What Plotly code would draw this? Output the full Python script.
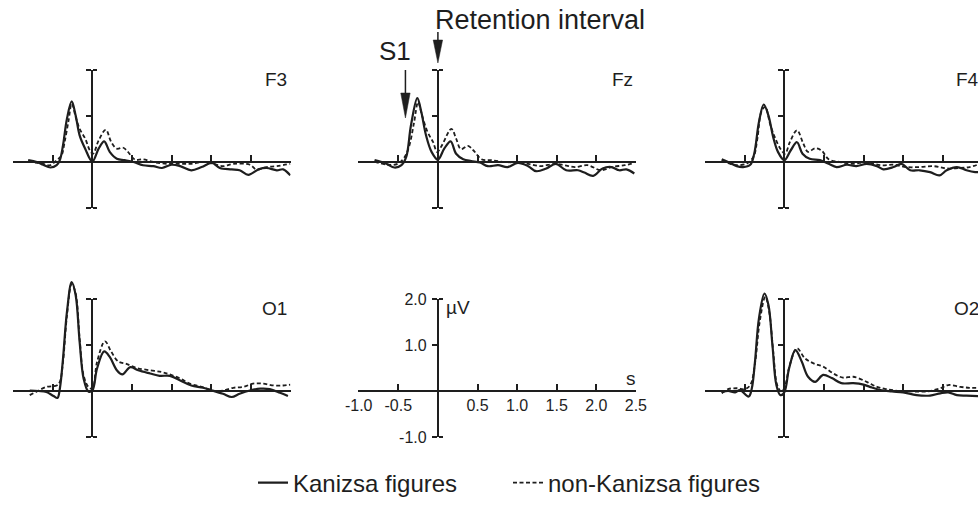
import plotly.graph_objects as go

# ---------------- data ----------------
F3_kan_t = [-0.81, -0.70, -0.62, -0.53, -0.45, -0.41, -0.37, -0.32, -0.26, -0.21, -0.16, -0.09, 0.0, 0.08, 0.15, 0.22, 0.31, 0.41, 0.52, 0.64, 0.77, 0.88, 1.0, 1.11, 1.25, 1.38, 1.51, 1.61, 1.76, 1.86, 1.97, 2.1, 2.2, 2.33, 2.41, 2.5]
F3_kan_v = [0.04, 0.0, -0.06, -0.12, -0.07, 0.04, 0.36, 0.94, 1.32, 1.01, 0.58, 0.29, 0.01, 0.29, 0.45, 0.22, 0.07, 0.04, 0.0, -0.07, -0.09, -0.13, -0.06, -0.09, -0.18, -0.11, -0.02, -0.13, -0.16, -0.18, -0.28, -0.16, -0.13, -0.18, -0.16, -0.29]
F3_non_t = [-0.81, -0.62, -0.53, -0.45, -0.39, -0.35, -0.30, -0.26, -0.21, -0.16, -0.09, -0.03, 0.01, 0.08, 0.17, 0.24, 0.31, 0.39, 0.45, 0.54, 0.64, 0.77, 0.94, 1.11, 1.25, 1.4, 1.53, 1.65, 1.78, 1.99, 2.07, 2.2, 2.33, 2.5]
F3_non_v = [0.01, -0.04, -0.07, 0.04, 0.14, 0.43, 0.9, 1.27, 0.98, 0.72, 0.51, 0.25, 0.18, 0.47, 0.70, 0.43, 0.29, 0.31, 0.22, 0.05, 0.06, 0.0, -0.04, -0.04, -0.04, 0.0, -0.04, -0.09, -0.04, -0.06, -0.16, -0.11, -0.09, -0.04]

Fz_kan_t = [-0.8, -0.65, -0.55, -0.46, -0.4, -0.34, -0.26, -0.21, -0.15, -0.08, 0.0, 0.08, 0.16, 0.23, 0.32, 0.42, 0.53, 0.63, 0.76, 0.88, 1.01, 1.14, 1.24, 1.37, 1.49, 1.62, 1.77, 1.85, 1.96, 2.08, 2.19, 2.29, 2.38, 2.48]
Fz_kan_v = [0.04, -0.04, -0.12, -0.07, 0.11, 0.8, 1.39, 1.09, 0.58, 0.22, 0.05, 0.29, 0.45, 0.18, 0.06, 0.02, -0.01, -0.09, -0.07, -0.11, -0.02, -0.09, -0.2, -0.14, -0.04, -0.18, -0.18, -0.23, -0.3, -0.14, -0.11, -0.18, -0.16, -0.25]
Fz_non_t = [-0.8, -0.63, -0.51, -0.42, -0.36, -0.3, -0.25, -0.2, -0.13, -0.06, -0.01, 0.05, 0.17, 0.23, 0.29, 0.38, 0.45, 0.55, 0.67, 0.84, 1.01, 1.14, 1.3, 1.47, 1.6, 1.73, 1.89, 2.06, 2.19, 2.36, 2.48]
Fz_non_v = [0.01, -0.06, -0.04, 0.11, 0.36, 0.87, 1.3, 1.01, 0.65, 0.43, 0.22, 0.36, 0.72, 0.51, 0.28, 0.35, 0.25, 0.06, 0.04, 0.0, -0.01, -0.04, -0.09, -0.04, -0.07, -0.11, -0.07, -0.18, -0.11, -0.07, -0.02]

F4_kan_t = [-0.79, -0.71, -0.6, -0.52, -0.43, -0.38, -0.32, -0.26, -0.2, -0.14, -0.08, 0.0, 0.08, 0.16, 0.23, 0.32, 0.45, 0.56, 0.66, 0.79, 0.91, 1.04, 1.17, 1.25, 1.38, 1.48, 1.59, 1.71, 1.84, 1.96, 2.05, 2.18, 2.3, 2.41, 2.47]
F4_kan_v = [0.06, 0.0, -0.09, -0.11, -0.06, 0.18, 0.87, 1.25, 1.01, 0.54, 0.22, 0.04, 0.25, 0.43, 0.18, 0.07, 0.04, -0.04, -0.11, -0.06, -0.09, -0.04, -0.09, -0.16, -0.11, -0.04, -0.18, -0.18, -0.22, -0.29, -0.18, -0.11, -0.18, -0.22, -0.22]
F4_non_t = [-0.79, -0.64, -0.48, -0.39, -0.34, -0.29, -0.24, -0.18, -0.12, -0.05, 0.01, 0.07, 0.16, 0.24, 0.3, 0.39, 0.47, 0.56, 0.7, 0.87, 1.04, 1.21, 1.38, 1.54, 1.71, 1.88, 2.05, 2.22, 2.34, 2.47]
F4_non_v = [0.04, -0.06, -0.04, 0.11, 0.51, 1.09, 1.2, 0.83, 0.54, 0.29, 0.18, 0.43, 0.69, 0.4, 0.22, 0.3, 0.25, 0.06, 0.0, -0.04, 0.0, -0.07, -0.06, -0.11, -0.11, -0.09, -0.14, -0.13, -0.11, -0.04]

O1_kan_t = [-0.79, -0.68, -0.58, -0.49, -0.44, -0.41, -0.37, -0.32, -0.26, -0.21, -0.16, -0.11, -0.05, 0.0, 0.06, 0.15, 0.22, 0.31, 0.38, 0.48, 0.58, 0.73, 0.85, 0.98, 1.11, 1.25, 1.4, 1.53, 1.65, 1.76, 1.86, 1.99, 2.12, 2.24, 2.37, 2.47]
O1_kan_v = [0.01, 0.0, -0.02, -0.11, -0.15, 0.05, 0.7, 1.72, 2.37, 2.08, 1.07, 0.27, -0.01, 0.01, 0.49, 0.86, 0.74, 0.45, 0.36, 0.52, 0.45, 0.38, 0.33, 0.33, 0.23, 0.12, 0.07, 0.0, -0.06, -0.13, -0.06, 0.01, 0.05, 0.04, -0.04, -0.11]
O1_non_t = [-0.79, -0.7, -0.58, -0.45, -0.41, -0.37, -0.32, -0.26, -0.21, -0.16, -0.11, -0.05, 0.0, 0.06, 0.16, 0.24, 0.33, 0.43, 0.56, 0.73, 0.88, 0.98, 1.11, 1.23, 1.38, 1.53, 1.65, 1.78, 1.91, 2.03, 2.16, 2.29, 2.41, 2.5]
O1_non_v = [-0.09, -0.01, 0.09, 0.12, 0.2, 0.63, 1.64, 2.33, 2.12, 1.14, 0.34, 0.09, 0.05, 0.63, 1.08, 0.85, 0.64, 0.59, 0.5, 0.45, 0.41, 0.36, 0.27, 0.16, 0.09, 0.01, 0.01, 0.07, 0.09, 0.16, 0.16, 0.12, 0.12, 0.14]

O2_kan_t = [-0.79, -0.71, -0.62, -0.56, -0.45, -0.41, -0.37, -0.32, -0.25, -0.2, -0.15, -0.1, -0.05, 0.0, 0.06, 0.14, 0.22, 0.3, 0.39, 0.49, 0.6, 0.72, 0.87, 1.0, 1.08, 1.21, 1.36, 1.5, 1.67, 1.84, 1.97, 2.07, 2.18, 2.3, 2.45]
O2_kan_v = [-0.03, 0.0, -0.03, 0.02, -0.12, 0.06, 0.64, 1.58, 2.12, 1.87, 1.0, 0.13, -0.09, -0.03, 0.49, 0.89, 0.64, 0.31, 0.2, 0.35, 0.28, 0.17, 0.17, 0.14, 0.09, 0.02, -0.01, -0.03, -0.09, -0.1, -0.05, -0.03, -0.09, -0.1, -0.11]
O2_non_t = [-0.79, -0.71, -0.6, -0.5, -0.43, -0.37, -0.31, -0.24, -0.19, -0.14, -0.09, -0.04, 0.0, 0.07, 0.16, 0.26, 0.37, 0.49, 0.62, 0.74, 0.87, 1.04, 1.17, 1.29, 1.46, 1.63, 1.8, 1.97, 2.07, 2.22, 2.34, 2.45]
O2_non_v = [-0.05, 0.04, 0.06, 0.04, 0.13, 0.6, 1.51, 2.05, 1.72, 0.86, 0.13, -0.01, 0.06, 0.57, 0.93, 0.71, 0.6, 0.53, 0.38, 0.29, 0.31, 0.2, 0.09, 0.04, 0.0, -0.01, -0.01, 0.06, 0.13, 0.09, 0.07, 0.07]

series_names = ["Kanizsa figures", "non-Kanizsa figures"]
x_tick_vals = [-1.0, -0.5, 0.5, 1.0, 1.5, 2.0, 2.5]
x_tick_text = ["-1.0", "-0.5", "0.5", "1.0", "1.5", "2.0", "2.5"]
y_tick_vals = [-1.0, 1.0, 2.0]
y_tick_text = ["-1.0", "1.0", "2.0"]
event_labels = ["S1", "Retention interval"]
event_times = [-0.41, 0.0]

# ---------------- layout geometry (pixels) ----------------
W, H = 978, 511
XS, YS = 79.2, 46.0            # px per second, px per microvolt
COL_X0 = [92.3, 437.9, 784.3]  # pixel x of t = 0
ROW_Y0 = [162.0, 391.0]        # pixel y of 0 uV
INK = "#1e1e1e"
FONT = "Liberation Sans, Arial, sans-serif"
DASH = "4px,2.5px"

panels = [
    dict(name="F3", col=0, row=0, k=(F3_kan_t, F3_kan_v), n=(F3_non_t, F3_non_v)),
    dict(name="Fz", col=1, row=0, k=(Fz_kan_t, Fz_kan_v), n=(Fz_non_t, Fz_non_v)),
    dict(name="F4", col=2, row=0, k=(F4_kan_t, F4_kan_v), n=(F4_non_t, F4_non_v)),
    dict(name="O1", col=0, row=1, k=(O1_kan_t, O1_kan_v), n=(O1_non_t, O1_non_v)),
    dict(name="", col=1, row=1, k=None, n=None),
    dict(name="O2", col=2, row=1, k=(O2_kan_t, O2_kan_v), n=(O2_non_t, O2_non_v)),
]

def px2fx(px):
    return px / W

def py2fy(py):
    return 1 - py / H

fig = go.Figure()
layout = dict(
    template="none",
    width=W, height=H, margin=dict(l=0, r=0, t=0, b=0, pad=0, autoexpand=False),
    paper_bgcolor="white", plot_bgcolor="rgba(0,0,0,0)",
    font=dict(family=FONT, color=INK),
    showlegend=True,
)
annotations = []
shapes = []

YD_RANGE = [-1.2, 2.9]
YV_RANGE = [-1.01, 2.01]

for i, p in enumerate(panels):
    ix = i + 1
    x0 = COL_X0[p["col"]]
    y0 = ROW_Y0[p["row"]]
    xr = [-1.003, 2.503]
    left = x0 + xr[0] * XS
    right = x0 + xr[1] * XS
    if right > W:
        right = W
        xr[1] = (W - x0) / XS
    is_scale = p["k"] is None

    xa = dict(
        domain=[px2fx(left), px2fx(right)], range=xr, anchor="free", position=py2fy(y0),
        showline=True, linecolor=INK, linewidth=2, showgrid=False, zeroline=False,
        tickmode="array", tickvals=x_tick_vals, ticktext=x_tick_text,
        ticks="inside", ticklen=6, tickwidth=1.5, tickcolor=INK,
        minor=dict(tickmode="array", tickvals=[-0.999, 2.499], ticks="outside",
                   ticklen=4, tickwidth=1.5, tickcolor=INK, showgrid=False),
        showticklabels=is_scale, tickfont=dict(size=16, color=INK), ticklabelstandoff=0,
        fixedrange=True, automargin=False,
    )
    layout[f"xaxis{ix}"] = xa

    # invisible data y axis
    yd = dict(
        domain=[py2fy(y0 + (-YD_RANGE[0]) * YS), py2fy(y0 - YD_RANGE[1] * YS)],
        range=YD_RANGE, anchor=f"x{ix}", visible=False, fixedrange=True, automargin=False,
        showgrid=False, zeroline=False,
    )
    layout[f"yaxis{ix}"] = yd

    # visible y axis spanning -1..2
    yv = dict(
        domain=[py2fy(y0 + (-YV_RANGE[0]) * YS), py2fy(y0 - YV_RANGE[1] * YS)],
        range=YV_RANGE, anchor="free", position=px2fx(x0), side="left",
        showline=True, linecolor=INK, linewidth=2, showgrid=False, zeroline=False,
        tickmode="array", tickvals=y_tick_vals, ticktext=y_tick_text,
        ticks="outside", ticklen=5, tickwidth=1.5, tickcolor=INK,
        minor=dict(tickmode="array", tickvals=[-0.999, 1.999], ticks="inside",
                   ticklen=4, tickwidth=1.5, tickcolor=INK, showgrid=False),
        showticklabels=is_scale, tickfont=dict(size=16, color=INK), ticklabelstandoff=2,
        fixedrange=True, automargin=False,
    )
    layout[f"yaxis{ix + 6}"] = yv
    fig.add_trace(go.Scatter(x=[None], y=[None], xaxis=f"x{ix}", yaxis=f"y{ix + 6}",
                             showlegend=False, hoverinfo="skip", mode="lines"))

    if not is_scale:
        kt, kv = p["k"]
        nt, nv = p["n"]
        fig.add_trace(go.Scatter(
            x=nt, y=nv, xaxis=f"x{ix}", yaxis=f"y{ix}", mode="lines",
            line=dict(color=INK, width=1.8, dash=DASH, shape="spline", smoothing=1.0),
            name=series_names[1], legendgroup="non", showlegend=(i == 0), legendrank=2,
        ))
        fig.add_trace(go.Scatter(
            x=kt, y=kv, xaxis=f"x{ix}", yaxis=f"y{ix}", mode="lines",
            line=dict(color=INK, width=2.2, shape="spline", smoothing=1.0),
            name=series_names[0], legendgroup="kan", showlegend=(i == 0), legendrank=1,
        ))
        annotations.append(dict(
            text=p["name"], xref="paper", yref="paper",
            x=px2fx(x0 + 2.5 * XS - 1), y=py2fy(y0 - 83), xanchor="right", yanchor="middle",
            showarrow=False, font=dict(size=19, color=INK, family=FONT),
        ))

# scale panel unit labels
sx0, sy0 = COL_X0[1], ROW_Y0[1]
annotations.append(dict(text="µV", xref="paper", yref="paper", x=px2fx(sx0 + 6), y=py2fy(sy0 - 84),
                        xanchor="left", yanchor="middle", showarrow=False,
                        font=dict(size=19, color=INK, family=FONT)))
annotations.append(dict(text="s", xref="paper", yref="paper", x=px2fx(sx0 + 2.5 * XS - 5), y=py2fy(sy0 - 13),
                        xanchor="center", yanchor="middle", showarrow=False,
                        font=dict(size=19, color=INK, family=FONT)))

# event markers on the Fz panel
fy0 = ROW_Y0[0]
label_pos = [(395, 51, 26), (540, 20, 27)]      # text centre px, font size
arrow_px = [(70, 93, 118), (32, 40, 63)]        # tail, head base, tip (pixel y)
HW = 4.7 / XS
for lab, t, (lx, ly, fs), (ytail, ybase, ytip) in zip(event_labels, event_times, label_pos, arrow_px):
    annotations.append(dict(text=lab, xref="paper", yref="paper", x=px2fx(lx), y=py2fy(ly),
                            xanchor="center", yanchor="middle", showarrow=False,
                            font=dict(size=fs, color=INK, family=FONT)))
    vt = (fy0 - ytail) / YS
    vb = (fy0 - ybase) / YS
    vp = (fy0 - ytip) / YS
    shapes.append(dict(type="line", xref="x2", yref="y2", x0=t, x1=t, y0=vt, y1=vb,
                       line=dict(color=INK, width=1.5)))
    shapes.append(dict(type="path", xref="x2", yref="y2",
                       path=f"M {t - HW},{vb} L {t + HW},{vb} L {t},{vp} Z",
                       fillcolor=INK, line=dict(color=INK, width=0.5)))

layout["annotations"] = annotations
layout["shapes"] = shapes
layout["legend"] = dict(orientation="h", x=px2fx(253), xanchor="left", y=py2fy(483), yanchor="middle",
                        font=dict(size=24, color=INK, family=FONT), bgcolor="rgba(0,0,0,0)",
                        itemwidth=30, traceorder="normal", entrywidth=210, entrywidthmode="pixels")
fig.update_layout(**layout)
fig.write_html("out.html")
